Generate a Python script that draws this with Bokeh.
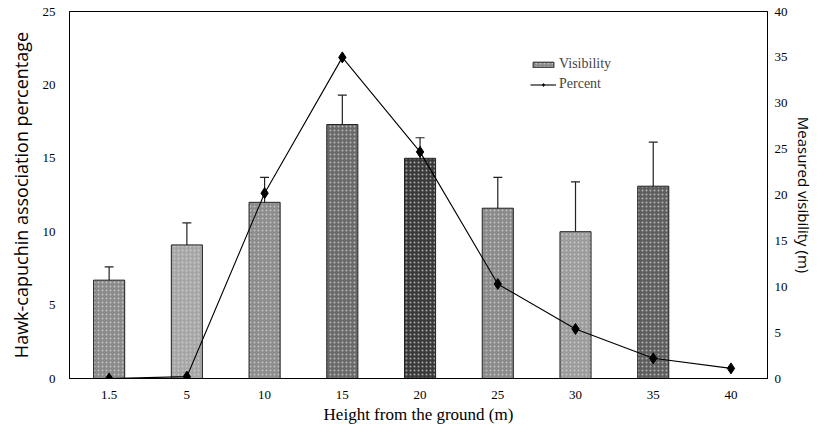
from bokeh.plotting import figure
from bokeh.models import (Range1d, LinearAxis, FixedTicker, Whisker, TeeHead,
                          ColumnDataSource, Legend, LegendItem)
from bokeh.embed import file_html
from bokeh.resources import INLINE

# ---- data ----
heights = ["1.5", "5", "10", "15", "20", "25", "30", "35", "40"]
visibility = [6.7, 9.1, 12.0, 17.3, 15.0, 11.6, 10.0, 13.1]          # bars, left axis
visibility_err = [0.9, 1.5, 1.7, 2.0, 1.4, 2.1, 3.4, 3.0]
percent = [0.0, 0.2, 20.2, 35.0, 24.7, 10.3, 5.4, 2.2, 1.1]          # line, right axis

# ---- style ----
BAR_SHADES = ["#8a8a8a", "#a6a6a6", "#8c8c8c", "#6a6a6a", "#3a3a3a", "#8a8a8a", "#9c9c9c", "#5e5e5e"]
SERIF = "Liberation Serif"
SANS = "Open Sans"

xs_all = list(range(len(heights)))
xs_bar = xs_all[:len(visibility)]

p = figure(width=816, height=427, output_backend="svg", toolbar_location=None,
           x_range=Range1d(-0.51, 8.47), y_range=Range1d(0, 25),
           min_border_left=69, min_border_right=43, min_border_top=11, min_border_bottom=49)
p.xgrid.visible = False
p.ygrid.visible = False
p.outline_line_color = "black"
p.outline_line_width = 1
p.background_fill_color = "white"
p.border_fill_color = "white"

p.extra_y_ranges = {"pct": Range1d(0, 40)}

bar_src = ColumnDataSource(dict(x=xs_bar, top=visibility, shade=BAR_SHADES,
                                upper=[v + e for v, e in zip(visibility, visibility_err)],
                                lower=[v - e for v, e in zip(visibility, visibility_err)]))
bars = p.vbar(x="x", top="top", bottom=0, width=0.4, source=bar_src,
              fill_color="shade", line_color="#222222", line_width=1,
              hatch_pattern="dot", hatch_color="#d8d8d8", hatch_scale=4, hatch_weight=1, hatch_alpha=0.7)

wh = Whisker(base="x", upper="upper", lower="lower", source=bar_src,
             line_color="#222222", line_width=1.2,
             upper_head=TeeHead(size=9, line_color="#222222", line_width=1.2),
             lower_head=TeeHead(size=9, line_color="#222222", line_width=1.2))
p.add_layout(wh)

line_src = ColumnDataSource(dict(x=xs_all, y=percent))
ln = p.line("x", "y", source=line_src, y_range_name="pct", line_color="black", line_width=1.1)
mk = p.scatter("x", "y", source=line_src, y_range_name="pct", marker="diamond",
               size=11, fill_color="black", line_color="black")

# x axis
xa = p.xaxis[0]
xa.ticker = FixedTicker(ticks=xs_all)
xa.major_label_overrides = {i: h for i, h in enumerate(heights)}
xa.axis_label = "Height from the ground (m)"

# left axis
ya = p.yaxis[0]
ya.ticker = FixedTicker(ticks=[0, 5, 10, 15, 20, 25])
ya.axis_label = "Hawk-capuchin association percentage"

# right axis
ra = LinearAxis(y_range_name="pct", ticker=FixedTicker(ticks=list(range(0, 41, 5))),
                axis_label="Measured visibility (m)")
p.add_layout(ra, "right")

for ax in [xa, ya, ra]:
    ax.major_tick_line_color = None
    ax.minor_tick_line_color = None
    ax.major_tick_out = 0
    ax.major_tick_in = 0
    ax.minor_tick_out = 0
    ax.minor_tick_in = 0
    ax.axis_line_color = "black"
    ax.major_label_text_font = SERIF
    ax.major_label_text_font_size = "13px"
    ax.major_label_text_color = "black"
    ax.axis_label_text_font_style = "normal"
    ax.axis_label_text_color = "black"

xa.major_label_standoff = 12
xa.axis_label_standoff = 3
xa.axis_label_text_font = SERIF
xa.axis_label_text_font_size = "17px"

ya.major_label_standoff = 14
ya.axis_label_standoff = 7
ya.axis_label_text_font = SANS
ya.axis_label_text_font_size = "18px"

ra.major_label_standoff = 7
ra.axis_label_standoff = 3
ra.axis_label_text_font = SANS
ra.axis_label_text_font_size = "15px"

legend = Legend(items=[LegendItem(label="Visibility", renderers=[bars]),
                       LegendItem(label="Percent", renderers=[ln, mk])],
                location=(461, 286), background_fill_alpha=0, border_line_color=None,
                label_text_font=SERIF, label_text_font_size="14px",
                glyph_width=26, glyph_height=7, spacing=4, label_standoff=3,
                label_height=14, padding=4, margin=0)
p.add_layout(legend)

open("out.html", "w").write(file_html(p, INLINE))
